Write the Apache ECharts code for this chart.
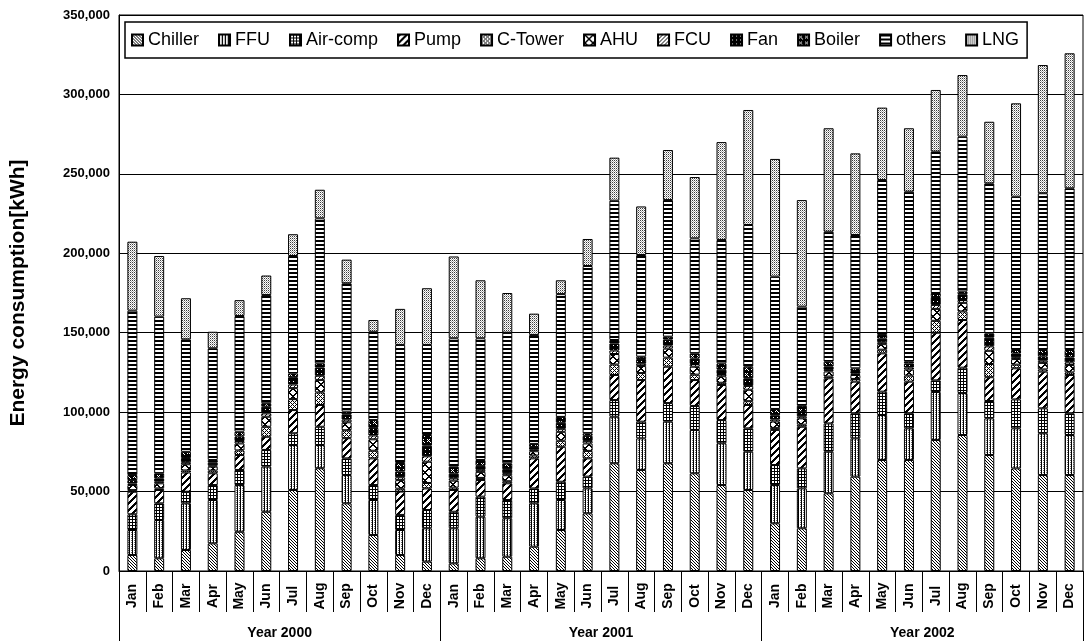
<!DOCTYPE html>
<html>
<head>
<meta charset="utf-8">
<script src="https://cdn.jsdelivr.net/npm/echarts@6/dist/echarts.min.js"></script>
<style>
  html, body { margin: 0; padding: 0; background: #fff; }
  #chart { width: 1085px; height: 641px; }
</style>
</head>
<body>
<div id="chart"></div>
<script>
// Monthly energy consumption by end use, 2000-2002 (kWh)
const years = ['Year 2000', 'Year 2001', 'Year 2002'];
const months = ['Jan','Feb','Mar','Apr','May','Jun','Jul','Aug','Sep','Oct','Nov','Dec'];
const seriesNames = ['Chiller','FFU','Air-comp','Pump','C-Tower','AHU','FCU','Fan','Boiler','others','LNG'];
const yTicks = [0, 50000, 100000, 150000, 200000, 250000, 300000, 350000];

const chiller = [10100, 8000, 13200, 17400, 24700, 37300, 51000, 64700, 42600, 22700, 10100, 5900,
                 4800, 8000, 9000, 15300, 25800, 36300, 67800, 63600, 67800, 61500, 54100, 51000,
                 30000, 26900, 48900, 59400, 69900, 69900, 82500, 85600, 73000, 64600, 60400, 60400];
const ffu = [15700, 24100, 29400, 27300, 29400, 28400, 28300, 14600, 17800, 22000, 15700, 21000,
             22100, 26200, 24200, 27300, 18900, 15700, 29300, 19900, 26200, 27300, 26300, 24100,
             24100, 25100, 26200, 24100, 28300, 19900, 30200, 26400, 23100, 25200, 26300, 25200];
const airComp = [9900, 10500, 7300, 9400, 9500, 10500, 7400, 11500, 10500, 9400, 9500, 11500,
                 10400, 12600, 11500, 9400, 11500, 7400, 10500, 10500, 11700, 15100, 14600, 14700,
                 12600, 12600, 17800, 15800, 14700, 9500, 7300, 16000, 10900, 18200, 15700, 13700];
const pump = [14200, 8400, 12100, 7400, 9400, 8300, 14600, 13700, 12700, 16800, 14700, 13600,
              13700, 10500, 10500, 18900, 22000, 11500, 15800, 26200, 22900, 16300, 22100, 14700,
              22100, 26200, 28400, 19900, 24100, 19900, 30000, 30000, 15000, 19600, 23100, 24100];
const cTower = [1000, 1000, 1300, 1700, 2900, 6300, 6900, 7900, 5000, 4800, 1800, 3400,
                1500, 1300, 1300, 1800, 3800, 4700, 6600, 4400, 5700, 3400, 1400, 2400,
                1300, 1300, 1100, 1700, 2300, 3800, 7500, 5400, 8300, 2300, 1400, 1600];
const ahu = [3200, 3200, 3900, 2500, 4400, 6300, 6900, 7900, 5000, 7200, 5400, 13400,
             4400, 3800, 3800, 2700, 5600, 4700, 6600, 4400, 5700, 5000, 4100, 7200,
             4000, 4000, 3200, 2500, 3500, 3800, 7500, 5400, 8300, 3500, 4100, 4700];
const fcu = [1000, 1000, 1300, 800, 1500, 2100, 2300, 2600, 1700, 2400, 1800, 3400,
             1500, 1300, 1300, 900, 1900, 1600, 2200, 1500, 1900, 1700, 1400, 2400,
             1300, 1300, 1000, 800, 1200, 1300, 2500, 1800, 2800, 1200, 1400, 1600];
const fan = [2100, 2100, 2600, 1700, 2900, 4200, 4600, 5200, 3300, 4800, 3600, 6700,
             2900, 2500, 2500, 1800, 3800, 3200, 4400, 2900, 3800, 3400, 2700, 4800,
             2600, 2600, 2100, 1700, 2300, 2500, 5000, 3600, 5500, 2300, 2700, 3100];
const boiler = [3200, 3200, 3900, 1700, 3000, 2200, 2400, 2600, 1700, 4900, 5400, 6700,
                4400, 3700, 3700, 1900, 3700, 1600, 2200, 1500, 1800, 3300, 4000, 7300,
                4000, 4000, 3100, 1700, 2300, 1200, 2500, 1800, 2700, 2200, 4000, 4700];
const others = [103500, 98600, 70800, 70300, 72800, 68100, 73900, 91300, 80800, 55600, 74300, 56700,
                80800, 76600, 82200, 68600, 77300, 105300, 87700, 64000, 86000, 72400, 77700, 89200,
                83300, 62400, 81800, 83900, 97500, 107000, 89000, 97400, 94400, 96500, 98700, 101800];
const lng = [43400, 38200, 25900, 10400, 10000, 12300, 13700, 18000, 14900, 7400, 22700, 35700,
             51500, 36500, 25000, 13400, 8700, 17000, 27100, 30600, 31500, 38600, 61600, 72400,
             74100, 67100, 65100, 51400, 45600, 39900, 38800, 38800, 38800, 58800, 80700, 85000];

const seriesValues = [chiller, ffu, airComp, pump, cTower, ahu, fcu, fan, boiler, others, lng];

// One category per month; key carries the year so every category is unique
const categories = [];
years.forEach(y => months.forEach(m => categories.push(y + '|' + m)));

// Monochrome fill patterns, drawn pixel by pixel into small tiles
function tile(w, h, ink) {
  const c = document.createElement('canvas');
  c.width = w; c.height = h;
  const ctx = c.getContext('2d');
  const img = ctx.createImageData(w, h);
  for (let y = 0; y < h; y++) {
    for (let x = 0; x < w; x++) {
      const v = ink(x, y); // 0 = black, 255 = white
      const i = (y * w + x) * 4;
      img.data[i] = img.data[i + 1] = img.data[i + 2] = v;
      img.data[i + 3] = 255;
    }
  }
  ctx.putImageData(img, 0, 0);
  return { image: c, repeat: 'repeat' };
}
const B = 0, W = 255;
const fills = [
  // Chiller: fine back-slash hatching
  tile(3, 3, (x, y) => ((x - y + 9) % 3 === 0 ? B : W)),
  // FFU: dense vertical lines
  tile(3, 2, (x, y) => (x === 0 ? B : (x === 2 && y === 0 ? 110 : W))),
  // Air-comp: small square grid
  tile(3, 3, (x, y) => (x === 0 || y === 0 ? B : W)),
  // Pump: bold forward slashes
  tile(7, 7, (x, y) => ((x + y) % 7 < 3 ? B : W)),
  // C-Tower: diagonal cross-hatch
  tile(4, 4, (x, y) => ((x + y) % 4 === 0 || (x - y + 8) % 4 === 0 ? B : W)),
  // AHU: large diagonal cross
  tile(8, 8, (x, y) => ((x + y) % 8 < 2 || (x - y + 16) % 8 < 2 ? B : W)),
  // FCU: thin forward slashes
  tile(4, 4, (x, y) => ((x + y) % 4 === 0 ? B : W)),
  // Fan: solid black with light flecks
  tile(4, 4, (x, y) => (x === 1 && y === 1 ? W : B)),
  // Boiler: black with white crosses
  tile(6, 6, (x, y) => ((x === y || x === 4 - y) && x <= 4 && y <= 4 && (x + y) % 2 === 0 && x > 0 && y > 0 ? W : B)),
  // others: horizontal stripes
  tile(2, 4, (x, y) => (y < 2 ? B : W)),
  // LNG: dotted stipple
  tile(2, 2, (x, y) => ((x + y) % 2 === 0 ? (y === 0 ? 60 : 170) : W))
];

const chart = echarts.init(document.getElementById('chart'), null, { renderer: 'canvas' });

const series = seriesNames.map((name, i) => ({
  name: name,
  type: 'bar',
  stack: 'total',
  xAxisIndex: 0,
  barWidth: 10,
  data: seriesValues[i],
  itemStyle: { color: fills[i], borderColor: '#000', borderWidth: 1 },
  emphasis: { disabled: true },
  animation: false
}));

const axisFont = { fontFamily: 'Arial, "Liberation Sans", sans-serif', fontWeight: 'bold', color: '#000' };

chart.setOption({
  animation: false,
  backgroundColor: '#fff',
  grid: { left: 118, right: 2, top: 15, bottom: 70, show: true, borderColor: '#000', borderWidth: 1 },
  legend: {
    data: seriesNames,
    left: 125, top: 22,
    orient: 'horizontal',
    icon: 'rect',
    itemWidth: 11, itemHeight: 11, itemGap: 19,
    padding: [9, 8, 9, 6],
    borderColor: '#000', borderWidth: 1.5,
    backgroundColor: '#fff',
    selectedMode: false,
    textStyle: { fontFamily: 'Arial, "Liberation Sans", sans-serif', fontSize: 18, color: '#000' }
  },
  xAxis: [
    {
      type: 'category',
      data: categories,
      position: 'bottom',
      axisLine: { show: true, lineStyle: { color: '#000', width: 1 } },
      axisTick: { show: true, interval: 0, length: 41, lineStyle: { color: '#000', width: 1 } },
      axisLabel: Object.assign({
        interval: 0, rotate: 90, align: 'center', verticalAlign: 'middle', margin: 25, fontSize: 14,
        formatter: v => v.split('|')[1]
      }, axisFont),
      splitLine: { show: false }
    },
    {
      type: 'category',
      data: years,
      position: 'bottom',
      axisLine: { show: false },
      axisTick: { show: true, interval: 0, length: 70, lineStyle: { color: '#000', width: 1 } },
      axisLabel: Object.assign({ interval: 0, margin: 55, fontSize: 14 }, axisFont),
      splitLine: { show: false }
    }
  ],
  yAxis: {
    type: 'value',
    min: yTicks[0],
    max: yTicks[yTicks.length - 1],
    interval: yTicks[1] - yTicks[0],
    name: 'Energy consumption[kWh]',
    nameLocation: 'middle',
    nameGap: 90,
    nameTextStyle: Object.assign({ fontSize: 21 }, axisFont),
    axisLine: { show: true, lineStyle: { color: '#000', width: 1 } },
    axisTick: { show: false },
    axisLabel: Object.assign({
      fontSize: 13, margin: 9,
      formatter: v => v.toLocaleString('en-US')
    }, axisFont),
    splitLine: { show: true, lineStyle: { color: '#000', width: 1 } }
  },
  series: series
});
</script>
</body>
</html>
